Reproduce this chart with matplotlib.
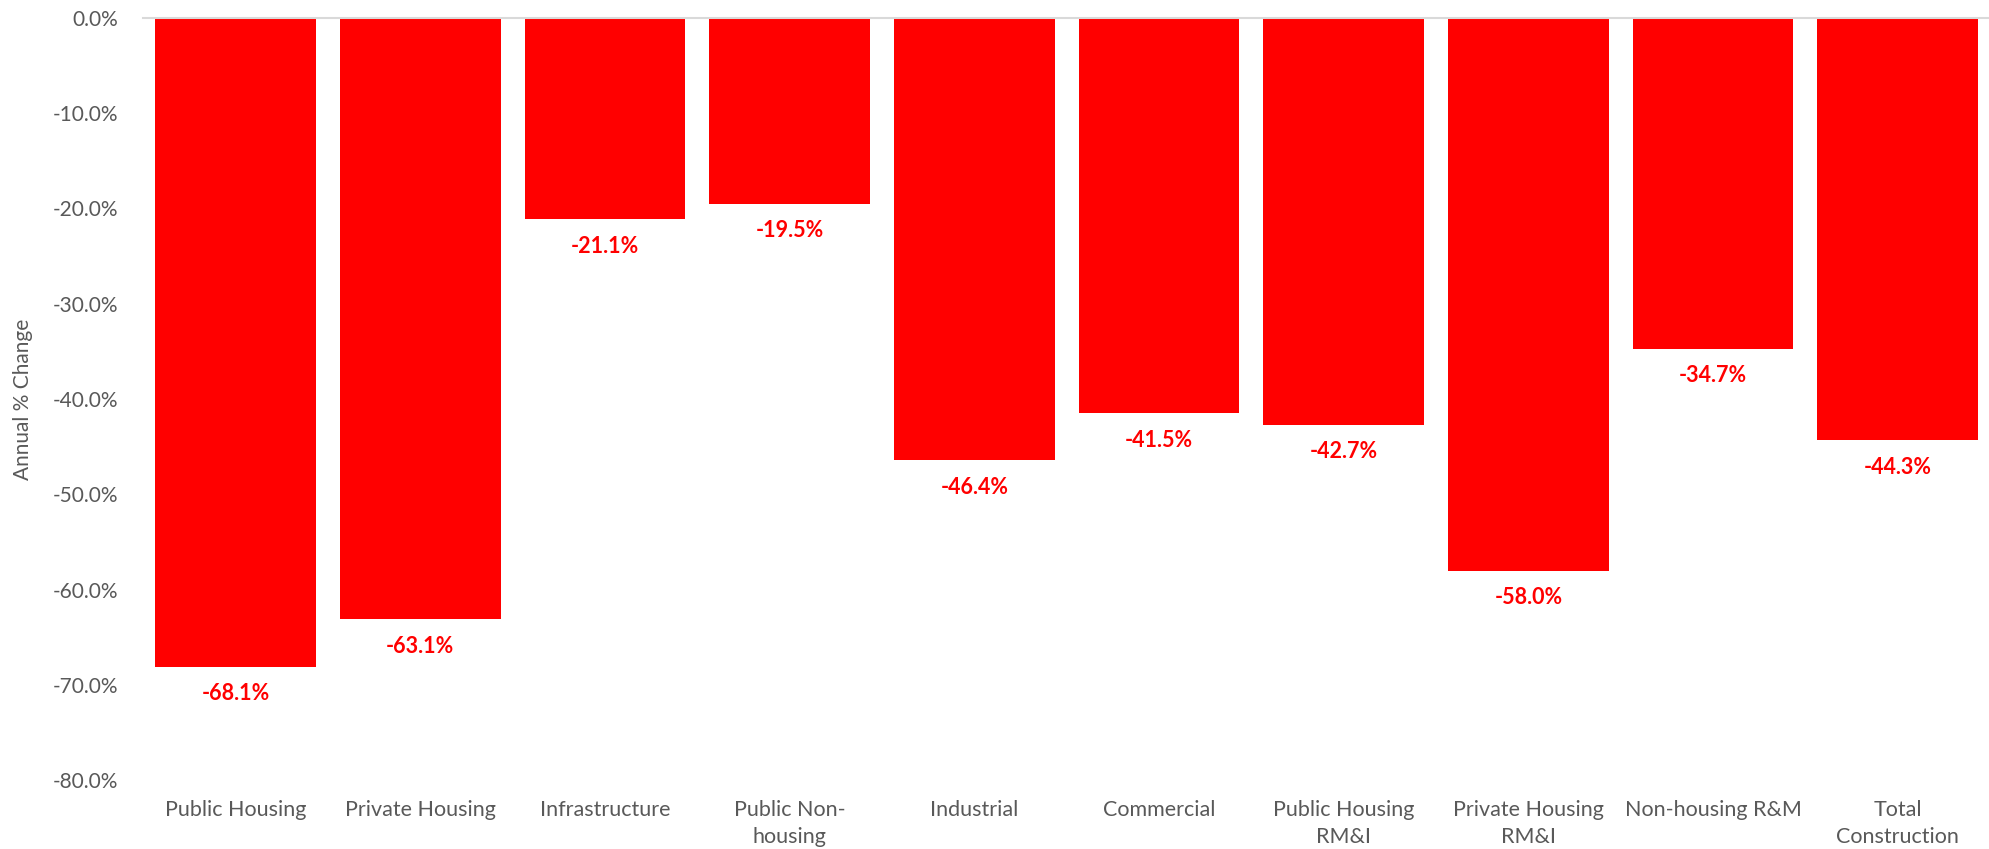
import matplotlib.pyplot as plt
from matplotlib.ticker import FuncFormatter

categories = ["Public Housing", "Private Housing", "Infrastructure", "Public Non-\nhousing",
              "Industrial", "Commercial", "Public Housing\nRM&I", "Private Housing\nRM&I",
              "Non-housing R&M", "Total\nConstruction"]
changes = [-68.1, -63.1, -21.1, -19.5, -46.4, -41.5, -42.7, -58.0, -34.7, -44.3]
yticks = [0, -10, -20, -30, -40, -50, -60, -70, -80]

plt.rcParams['font.family'] = ['Lato', 'DejaVu Sans']

fig = plt.figure(figsize=(19.9, 8.49), dpi=100)
ax = fig.add_axes([0.072, 0.081, 0.928, 0.898])

x = list(range(len(categories)))
ax.bar(x, changes, width=0.87, color='#ff0000')

# value labels under each bar
for xi, v in zip(x, changes):
    ax.annotate(f"{v:.1f}%", (xi, v), xytext=(0, -12), textcoords='offset points',
                ha='center', va='top', color='#ff0000', fontsize=15.5, fontweight='bold')

ax.set_xlim(-0.5, len(categories) - 0.5)
ax.set_ylim(-80, 0)
ax.set_yticks(yticks)
ax.yaxis.set_major_formatter(FuncFormatter(lambda v, p: f"{v:.1f}%"))
ax.set_xticks(x)
ax.set_xticklabels(categories, linespacing=1.45)
ax.tick_params(axis='x', length=0, labelsize=15.5, colors='#595959', pad=14)
ax.tick_params(axis='y', length=0, labelsize=15, colors='#595959', pad=18)

for s in ['left', 'right', 'bottom']:
    ax.spines[s].set_visible(False)
ax.spines['top'].set_color('#d9d9d9')
ax.spines['top'].set_linewidth(1.5)

ax.set_ylabel("Annual % Change", fontsize=15, color='#595959', labelpad=14)

plt.savefig("out.png", dpi=100)
